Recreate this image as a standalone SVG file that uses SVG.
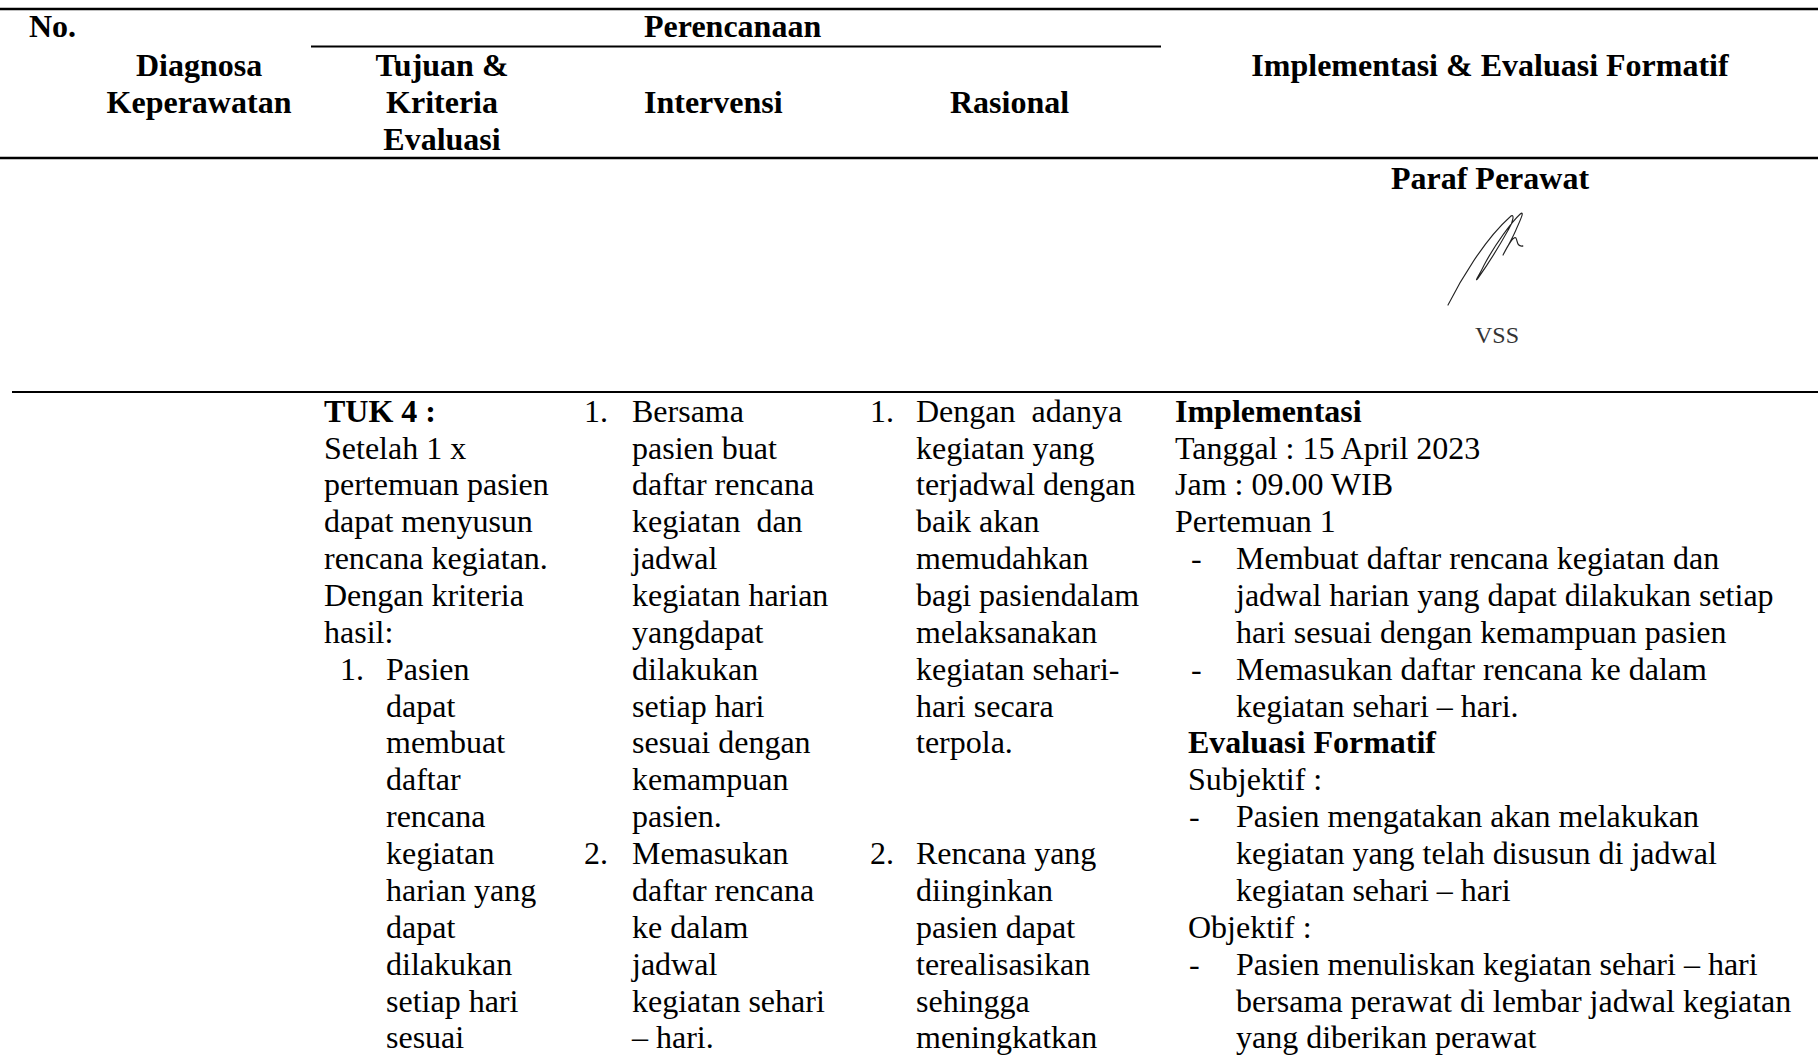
<svg xmlns="http://www.w3.org/2000/svg" width="1818" height="1056" viewBox="0 0 1818 1056">
  <style>
    text { font-family: "Liberation Serif", "Times New Roman", serif; font-size: 32px; fill: #000; }
    .b { font-weight: bold; }
    .c { text-anchor: middle; }
    .sm { font-size: 24px; fill: #333; }
    .rule { stroke: #000; fill: none; }
  </style>
  <rect width="1818" height="1056" fill="#fff"/>

  <!-- table rules -->
  <g id="rules">
    <line class="rule" x1="0" y1="9" x2="1818" y2="9" stroke-width="2.6"/>
    <line class="rule" x1="311" y1="46.5" x2="1161" y2="46.5" stroke-width="2"/>
    <line class="rule" x1="0" y1="158" x2="1818" y2="158" stroke-width="2.6"/>
    <line class="rule" x1="12" y1="392" x2="1818" y2="392" stroke-width="2"/>
  </g>

  <!-- column headings -->
  <g id="header">
    <text class="b" x="29" y="37">No.</text>
    <text class="b" x="644" y="37">Perencanaan</text>
    <text class="b c" x="199" y="76">Diagnosa</text>
    <text class="b c" x="199" y="113">Keperawatan</text>
    <text class="b c" x="442" y="76">Tujuan &amp;</text>
    <text class="b c" x="442" y="113">Kriteria</text>
    <text class="b c" x="442" y="150">Evaluasi</text>
    <text class="b" x="644" y="113">Intervensi</text>
    <text class="b" x="950" y="113">Rasional</text>
    <text class="b c" x="1490" y="76">Implementasi &amp; Evaluasi Formatif</text>
  </g>

  <!-- nurse signature block -->
  <g id="paraf">
    <text class="b c" x="1490" y="189">Paraf Perawat</text>
    <path transform="translate(1448 0) scale(0.86 1) translate(-1448 0)" d="M1448,305 C1462,281 1490,240 1520,217 C1526,212 1524,222 1518,230 C1505,250 1488,272 1483,278 C1478,283 1484,276 1490,265 C1503,244 1522,222 1532,214 C1538,210 1531,222 1527,230 C1522,240 1515,250 1512,255 C1518,245 1524,236 1527,238 C1529,241 1528,247 1535,246" fill="none" stroke="#222" stroke-width="1.3" stroke-linecap="round" stroke-linejoin="round"/>
    <text class="sm c" x="1497" y="343">VSS</text>
  </g>

  <!-- Tujuan & Kriteria Evaluasi -->
  <g id="tujuan">
    <text class="b" x="324" y="421.7">TUK 4 :</text>
    <text x="324" y="458.6">Setelah 1 x</text>
    <text x="324" y="495.4">pertemuan pasien</text>
    <text x="324" y="532.3">dapat menyusun</text>
    <text x="324" y="569.1">rencana kegiatan.</text>
    <text x="324" y="606">Dengan kriteria</text>
    <text x="324" y="642.9">hasil:</text>
    <text x="340" y="679.7">1.</text>
    <text x="386" y="679.7">Pasien</text>
    <text x="386" y="716.6">dapat</text>
    <text x="386" y="753.4">membuat</text>
    <text x="386" y="790.3">daftar</text>
    <text x="386" y="827.2">rencana</text>
    <text x="386" y="864">kegiatan</text>
    <text x="386" y="900.9">harian yang</text>
    <text x="386" y="937.7">dapat</text>
    <text x="386" y="974.6">dilakukan</text>
    <text x="386" y="1011.5">setiap hari</text>
    <text x="386" y="1048.3">sesuai</text>
  </g>

  <!-- Intervensi -->
  <g id="intervensi">
    <text x="584" y="421.7">1.</text>
    <text x="632" y="421.7">Bersama</text>
    <text x="632" y="458.6">pasien buat</text>
    <text x="632" y="495.4">daftar rencana</text>
    <text x="632" y="532.3">kegiatan&#160; dan</text>
    <text x="632" y="569.1">jadwal</text>
    <text x="632" y="606">kegiatan harian</text>
    <text x="632" y="642.9">yangdapat</text>
    <text x="632" y="679.7">dilakukan</text>
    <text x="632" y="716.6">setiap hari</text>
    <text x="632" y="753.4">sesuai dengan</text>
    <text x="632" y="790.3">kemampuan</text>
    <text x="632" y="827.2">pasien.</text>
    <text x="584" y="864">2.</text>
    <text x="632" y="864">Memasukan</text>
    <text x="632" y="900.9">daftar rencana</text>
    <text x="632" y="937.7">ke dalam</text>
    <text x="632" y="974.6">jadwal</text>
    <text x="632" y="1011.5">kegiatan sehari</text>
    <text x="632" y="1048.3">– hari.</text>
  </g>

  <!-- Rasional -->
  <g id="rasional">
    <text x="870" y="421.7">1.</text>
    <text x="916" y="421.7">Dengan&#160; adanya</text>
    <text x="916" y="458.6">kegiatan yang</text>
    <text x="916" y="495.4">terjadwal dengan</text>
    <text x="916" y="532.3">baik akan</text>
    <text x="916" y="569.1">memudahkan</text>
    <text x="916" y="606">bagi pasiendalam</text>
    <text x="916" y="642.9">melaksanakan</text>
    <text x="916" y="679.7">kegiatan sehari-</text>
    <text x="916" y="716.6">hari secara</text>
    <text x="916" y="753.4">terpola.</text>
    <text x="870" y="864">2.</text>
    <text x="916" y="864">Rencana yang</text>
    <text x="916" y="900.9">diinginkan</text>
    <text x="916" y="937.7">pasien dapat</text>
    <text x="916" y="974.6">terealisasikan</text>
    <text x="916" y="1011.5">sehingga</text>
    <text x="916" y="1048.3">meningkatkan</text>
  </g>

  <!-- Implementasi & Evaluasi Formatif -->
  <g id="implementasi">
    <text class="b" x="1175" y="421.7">Implementasi</text>
    <text x="1175" y="458.6">Tanggal : 15 April 2023</text>
    <text x="1175" y="495.4">Jam : 09.00 WIB</text>
    <text x="1175" y="532.3">Pertemuan 1</text>
    <text x="1191" y="569.1">-</text>
    <text x="1236" y="569.1">Membuat daftar rencana kegiatan dan</text>
    <text x="1236" y="606">jadwal harian yang dapat dilakukan setiap</text>
    <text x="1236" y="642.9">hari sesuai dengan kemampuan pasien</text>
    <text x="1191" y="679.7">-</text>
    <text x="1236" y="679.7">Memasukan daftar rencana ke dalam</text>
    <text x="1236" y="716.6">kegiatan sehari – hari.</text>
    <text class="b" x="1188" y="753.4">Evaluasi Formatif</text>
    <text x="1188" y="790.3">Subjektif :</text>
    <text x="1189" y="827.2">-</text>
    <text x="1236" y="827.2">Pasien mengatakan akan melakukan</text>
    <text x="1236" y="864">kegiatan yang telah disusun di jadwal</text>
    <text x="1236" y="900.9">kegiatan sehari – hari</text>
    <text x="1188" y="937.7">Objektif :</text>
    <text x="1189" y="974.6">-</text>
    <text x="1236" y="974.6">Pasien menuliskan kegiatan sehari – hari</text>
    <text x="1236" y="1011.5">bersama perawat di lembar jadwal kegiatan</text>
    <text x="1236" y="1048.3">yang diberikan perawat</text>
  </g>
</svg>
